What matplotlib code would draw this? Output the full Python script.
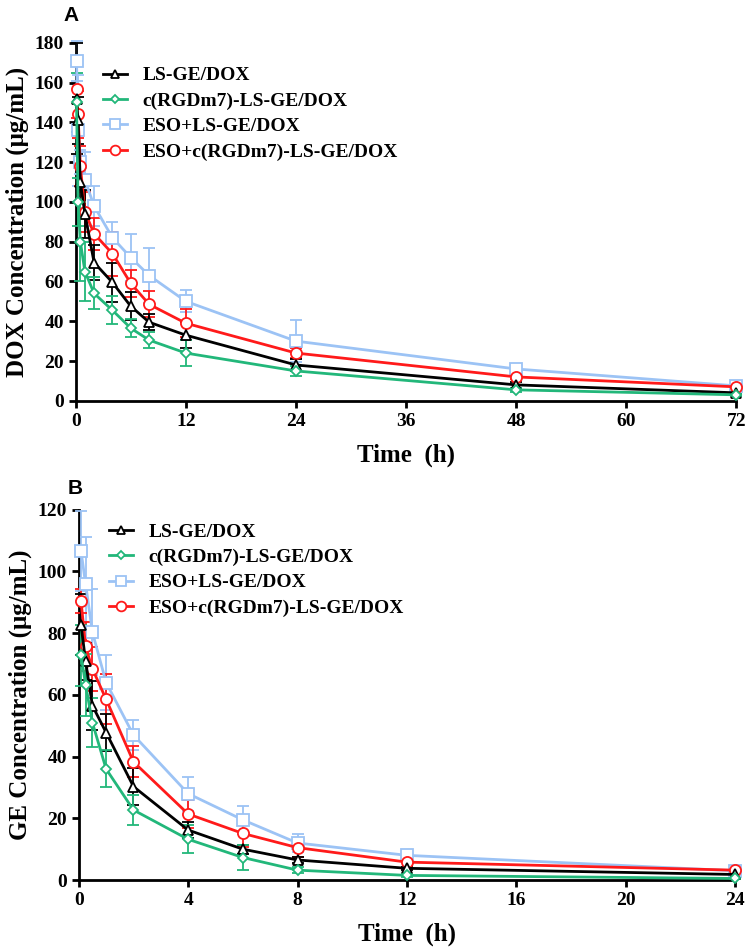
import matplotlib
matplotlib.use('Agg')
import matplotlib.pyplot as plt
from matplotlib.lines import Line2D

# panel A: DOX
t_dox = [0.083, 0.25, 0.5, 1, 2, 4, 6, 8, 12, 24, 48, 72]
dox_ls = [152, 141, 110, 94, 69.5, 59.5, 47.5, 39.5, 33, 18, 8, 4]
dox_ls_err = [28, 12, 10, 12, 9, 10, 7, 4, 6.5, 3, 1.5, 0.8]
dox_rgd = [150, 100, 80, 65, 54, 45.5, 36.5, 30.5, 24, 15, 5.5, 3]
dox_rgd_err = [15, 12, 20, 15, 8, 7, 4.5, 4, 6.5, 2.5, 1, 0.5]
dox_eso = [171, 136, 120, 111, 98, 82, 72, 63, 50, 30, 16, 7.5]
dox_eso_err = [10, 28, 6, 14, 10, 8, 12, 14, 5.5, 10.5, 1.5, 0.5]
dox_eso_rgd = [157, 144, 118, 95, 84, 74, 59, 48.5, 39, 24, 12, 7]
dox_eso_rgd_err = [15, 12, 10, 10, 8, 11, 7, 6.5, 7, 2.5, 1, 0.5]

# panel B: GE
t_ge = [0.083, 0.25, 0.5, 1, 2, 4, 6, 8, 12, 24]
ge_ls = [82.8, 70.9, 56.5, 47.8, 30.3, 16.2, 10, 6.5, 3.8, 1.8]
ge_ls_err = [10, 6, 8, 6, 6, 2.5, 1.5, 1, 0.5, 0.3]
ge_rgd = [72.8, 63.3, 51, 36, 22.7, 13.2, 7.3, 3.2, 1.5, 0.5]
ge_rgd_err = [10, 10, 8, 6, 5, 4.5, 4, 1, 0.5, 0.3]
ge_eso = [106.6, 96, 80.3, 64, 47, 28, 19.5, 12, 8, 3]
ge_eso_err = [13, 15, 14, 9, 5, 5.5, 4.5, 3, 1, 0.5]
ge_eso_rgd = [90.4, 75.7, 68.4, 58.6, 38.3, 21.4, 15.1, 10.5, 5.8, 3.2]
ge_eso_rgd_err = [4, 8, 7, 8, 5, 4.5, 4.5, 3, 1.5, 0.5]

labels = ['LS-GE/DOX', 'c(RGDm7)-LS-GE/DOX', 'ESO+LS-GE/DOX', 'ESO+c(RGDm7)-LS-GE/DOX']
colors = ['#000000', '#22b77a', '#9cc3f5', '#ff1a1a']
markers = ['^', 'D', 's', 'o']
msizes = [7, 5.5, 8, 8]

plt.rcParams['font.family'] = ['Liberation Serif', 'DejaVu Serif']
plt.rcParams['font.weight'] = 'bold'

fig = plt.figure(figsize=(7.5, 9.52), dpi=100)
axA = fig.add_axes([0.101, 0.579, 0.881, 0.376])
axB = fig.add_axes([0.105, 0.0756, 0.875, 0.389])


def draw(ax, t, series, errs, xmax, ymax, xstep, ylabel, anchor):
    for i in [2, 3, 0, 1]:
        ax.errorbar(t, series[i], yerr=errs[i], color=colors[i], marker=markers[i],
                    markersize=msizes[i], markerfacecolor='white', markeredgecolor=colors[i],
                    markeredgewidth=1.3, linewidth=2, elinewidth=1.3, capsize=4,
                    capthick=1.3, clip_on=False, zorder=3)
    handles = [Line2D([], [], color=colors[i], marker=markers[i], markersize=msizes[i] - 1,
                      markerfacecolor='white', markeredgewidth=1.3, linewidth=2)
               for i in range(4)]
    ax.legend(handles, labels, loc='upper left', frameon=False, borderaxespad=0,
              bbox_to_anchor=anchor, handlelength=1.2, handletextpad=0.8,
              labelspacing=0.4, prop={'family': 'Liberation Serif', 'weight': 'bold', 'size': 14})
    ax.set_xlim(0, xmax)
    ax.set_ylim(0, ymax)
    ax.set_xticks(range(0, xmax + 1, xstep))
    ax.set_yticks(range(0, ymax + 1, 20))
    for s in ['top', 'right']:
        ax.spines[s].set_visible(False)
    for s in ['left', 'bottom']:
        ax.spines[s].set_linewidth(2)
    ax.tick_params(width=2, length=5, labelsize=14)
    for lab in ax.get_xticklabels() + ax.get_yticklabels():
        lab.set_fontweight('bold')
    ax.set_xlabel('Time  (h)', fontsize=18, fontweight='bold', labelpad=10)
    ax.set_ylabel(ylabel, fontsize=18, fontweight='bold', labelpad=4)


draw(axA, t_dox, [dox_ls, dox_rgd, dox_eso, dox_eso_rgd],
     [dox_ls_err, dox_rgd_err, dox_eso_err, dox_eso_rgd_err], 72, 180, 12,
     'DOX Concentration (μg/mL)', (0.03, 0.955))
draw(axB, t_ge, [ge_ls, ge_rgd, ge_eso, ge_eso_rgd],
     [ge_ls_err, ge_rgd_err, ge_eso_err, ge_eso_rgd_err], 24, 120, 4,
     'GE Concentration (μg/mL)', (0.035, 0.985))

fig.text(0.084, 0.984, 'A', fontsize=15, fontweight='bold', family='Liberation Sans', va='center')
fig.text(0.09, 0.487, 'B', fontsize=15, fontweight='bold', family='Liberation Sans', va='center')

fig.savefig('out.png', dpi=100)
